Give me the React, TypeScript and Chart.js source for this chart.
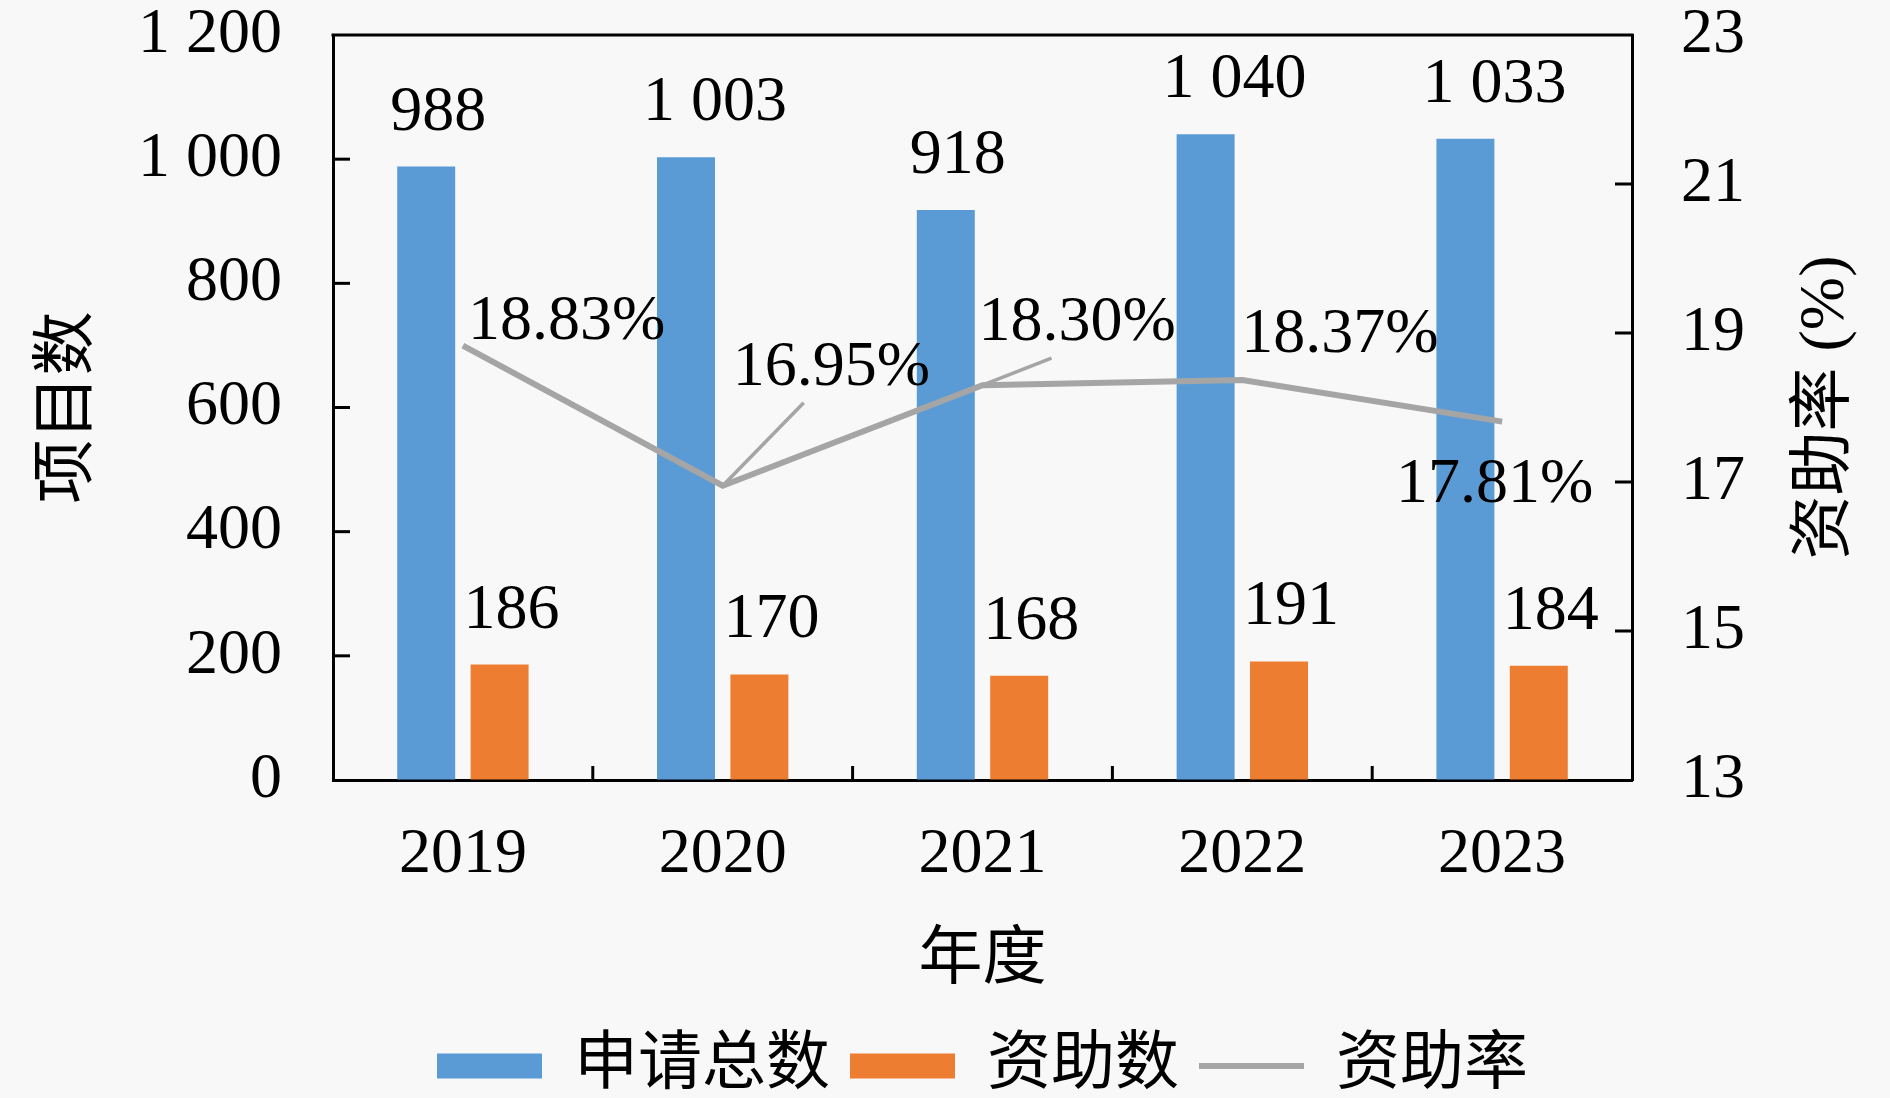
import React, { useEffect, useRef } from 'react'
import { Chart, registerables } from 'chart.js'

Chart.register(...registerables)

const years = ['2019', '2020', '2021', '2022', '2023']
const applied = [988, 1003, 918, 1040, 1033]
const funded = [186, 170, 168, 191, 184]
const rate = [18.83, 16.95, 18.30, 18.37, 17.81]

const countTicks = [0, 200, 400, 600, 800, 1000, 1200]
const rateTicks = [13, 15, 17, 19, 21, 23]

const FONT = "'Liberation Serif', 'Noto Sans CJK SC', serif"
const BLUE = '#5b9bd5'
const ORANGE = '#ed7d31'
const GRAY = '#a5a5a5'

// where each rate label sits relative to its point (text left / baseline), plus optional leader line end
const rateLabelPos = [
    { dx: 5, dy: -7 },
    { dx: 10, dy: -101, lx: 81, ly: -83 },
    { dx: -4, dy: -45, lx: 69, ly: -27 },
    { dx: -1, dy: -28 },
    { dx: -106, dy: 80 },
]

const fmt = (n: number) => String(n).replace(/\B(?=(\d{3})+(?!\d))/g, ' ')

const decorations = {
    id: 'decorations',
    afterDraw(chart: any) {
        const { ctx, chartArea } = chart
        const { left, right, top, bottom } = chartArea
        const xs = chart.scales.x
        const ys = chart.scales.y
        const y2 = chart.scales.y2
        ctx.save()
        ctx.strokeStyle = '#000'
        ctx.lineWidth = 3
        ctx.lineCap = 'butt'

        // top frame line
        ctx.beginPath()
        ctx.moveTo(left - 1.5, top)
        ctx.lineTo(right + 1.5, top)
        ctx.stroke()

        // inward tick marks
        ys.ticks.forEach((t: any, i: number) => {
            if (i === 0 || i === ys.ticks.length - 1) return
            const y = ys.getPixelForValue(t.value)
            ctx.beginPath()
            ctx.moveTo(left, y)
            ctx.lineTo(left + 17, y)
            ctx.stroke()
        })
        y2.ticks.forEach((t: any, i: number) => {
            if (i === 0 || i === y2.ticks.length - 1) return
            const y = y2.getPixelForValue(t.value)
            ctx.beginPath()
            ctx.moveTo(right, y)
            ctx.lineTo(right - 17, y)
            ctx.stroke()
        })
        for (let i = 0; i < years.length - 1; i++) {
            const x = (xs.getPixelForValue(i) + xs.getPixelForValue(i + 1)) / 2
            ctx.beginPath()
            ctx.moveTo(x, bottom)
            ctx.lineTo(x, bottom - 14)
            ctx.stroke()
        }

        // value labels on bars
        ctx.fillStyle = '#000'
        ctx.font = `64px ${FONT}`
        ctx.textBaseline = 'alphabetic'
        ctx.textAlign = 'center'
        chart.getDatasetMeta(0).data.forEach((bar: any, i: number) => {
            const text = fmt(applied[i])
            const shift = applied[i] >= 1000 ? 29 : 12
            ctx.fillText(text, bar.x + shift, bar.y - 37)
        })
        chart.getDatasetMeta(1).data.forEach((bar: any, i: number) => {
            ctx.fillText(fmt(funded[i]), bar.x + 12, bar.y - 37)
        })

        // rate labels with leader lines
        ctx.textAlign = 'left'
        chart.getDatasetMeta(2).data.forEach((pt: any, i: number) => {
            const p = rateLabelPos[i]
            if (p.lx !== undefined) {
                ctx.strokeStyle = GRAY
                ctx.lineWidth = 3.5
                ctx.beginPath()
                ctx.moveTo(pt.x, pt.y)
                ctx.lineTo(pt.x + p.lx, pt.y + (p.ly as number))
                ctx.stroke()
            }
            ctx.fillText(rate[i].toFixed(2) + '%', pt.x + p.dx, pt.y + p.dy)
        })

        // right axis title, reading bottom to top
        ctx.save()
        ctx.translate(1826, (top + bottom) / 2)
        ctx.rotate(-Math.PI / 2)
        ctx.textAlign = 'center'
        ctx.textBaseline = 'middle'
        ctx.fillText('资助率 (%)', 0, 0)
        ctx.restore()

        ctx.restore()
    },
}

const background = {
    id: 'background',
    beforeDraw(chart: any) {
        const { ctx, width, height } = chart
        ctx.save()
        ctx.fillStyle = '#f8f8f8'
        ctx.fillRect(0, 0, width, height)
        ctx.restore()
    },
}

const App: React.FunctionComponent = () => {
    const chartRef = useRef<HTMLCanvasElement>(null)

    useEffect(() => {
        document.body.style.margin = '0'
        const chartCtx = chartRef.current!.getContext('2d') as CanvasRenderingContext2D

        const tickFont = { family: FONT, size: 64, lineHeight: 1 }

        const chart = new Chart(chartCtx, {
            type: 'bar',
            data: {
                labels: years,
                datasets: [
                    {
                        type: 'bar',
                        label: '申请总数',
                        data: applied,
                        backgroundColor: BLUE,
                        borderWidth: 0,
                        pointStyle: 'rect',
                        yAxisID: 'y',
                        categoryPercentage: 0.565,
                        barPercentage: 0.79,
                        order: 1,
                    } as any,
                    {
                        type: 'bar',
                        label: '资助数',
                        data: funded,
                        backgroundColor: ORANGE,
                        borderWidth: 0,
                        pointStyle: 'rect',
                        yAxisID: 'y',
                        categoryPercentage: 0.565,
                        barPercentage: 0.79,
                        order: 1,
                    } as any,
                    {
                        type: 'line',
                        label: '资助率',
                        data: rate,
                        borderColor: GRAY,
                        backgroundColor: GRAY,
                        borderWidth: 6,
                        pointRadius: 0,
                        pointStyle: 'line',
                        tension: 0,
                        yAxisID: 'y2',
                        order: 0,
                    } as any,
                ],
            },
            options: {
                animation: false,
                responsive: true,
                maintainAspectRatio: false,
                layout: { padding: { top: 35, left: 0, right: 0, bottom: -10 } },
                scales: {
                    x: {
                        offset: true,
                        grid: { display: false, drawTicks: false },
                        border: { display: true, color: '#000', width: 3 },
                        ticks: { color: '#000', font: tickFont, padding: 43 },
                        title: {
                            display: true,
                            text: '年度',
                            color: '#000',
                            font: { family: FONT, size: 64, lineHeight: 1 },
                            padding: { top: 0, bottom: 21 },
                        },
                        afterFit: (scale: any) => {
                            scale.height = 234
                        },
                    },
                    y: {
                        position: 'left',
                        min: 0,
                        max: 1200,
                        afterBuildTicks: (scale: any) => {
                            scale.ticks = countTicks.map((value) => ({ value }))
                        },
                        grid: {
                            display: true,
                            drawOnChartArea: false,
                            drawTicks: true,
                            tickLength: 51,
                            tickColor: 'rgba(0,0,0,0)',
                        },
                        border: { display: true, color: '#000', width: 3 },
                        ticks: {
                            color: '#000',
                            font: tickFont,
                            padding: 0,
                            callback: (v: any) => fmt(Number(v)),
                        },
                        title: {
                            display: true,
                            text: '项目数',
                            color: '#000',
                            font: { family: FONT, size: 64, lineHeight: 1 },
                            padding: { top: 37, bottom: 0 },
                        },
                        afterFit: (scale: any) => {
                            scale.width = 333
                        },
                    },
                    y2: {
                        position: 'right',
                        min: 13,
                        max: 23,
                        afterBuildTicks: (scale: any) => {
                            scale.ticks = rateTicks.map((value) => ({ value }))
                        },
                        grid: {
                            display: true,
                            drawOnChartArea: false,
                            drawTicks: true,
                            tickLength: 49,
                            tickColor: 'rgba(0,0,0,0)',
                        },
                        border: { display: true, color: '#000', width: 3 },
                        ticks: { color: '#000', font: tickFont, padding: 0 },
                        afterFit: (scale: any) => {
                            scale.width = 258
                        },
                    },
                },
                plugins: {
                    legend: {
                        position: 'bottom',
                        fullSize: false,
                        labels: {
                            usePointStyle: true,
                            pointStyleWidth: 105,
                            boxHeight: 25,
                            padding: 20,
                            color: '#000',
                            font: { family: FONT, size: 64, lineHeight: 1 },
                            sort: (a: any, b: any) => a.datasetIndex - b.datasetIndex,
                        },
                    },
                    tooltip: { enabled: false },
                },
            },
            plugins: [background, decorations],
        })

        return () => {
            chart.destroy()
        }
    }, [])

    return (
        <div style={{ position: 'relative', width: 1890, height: 1098 }}>
            <canvas ref={chartRef}></canvas>
        </div>
    )
}

export default App
